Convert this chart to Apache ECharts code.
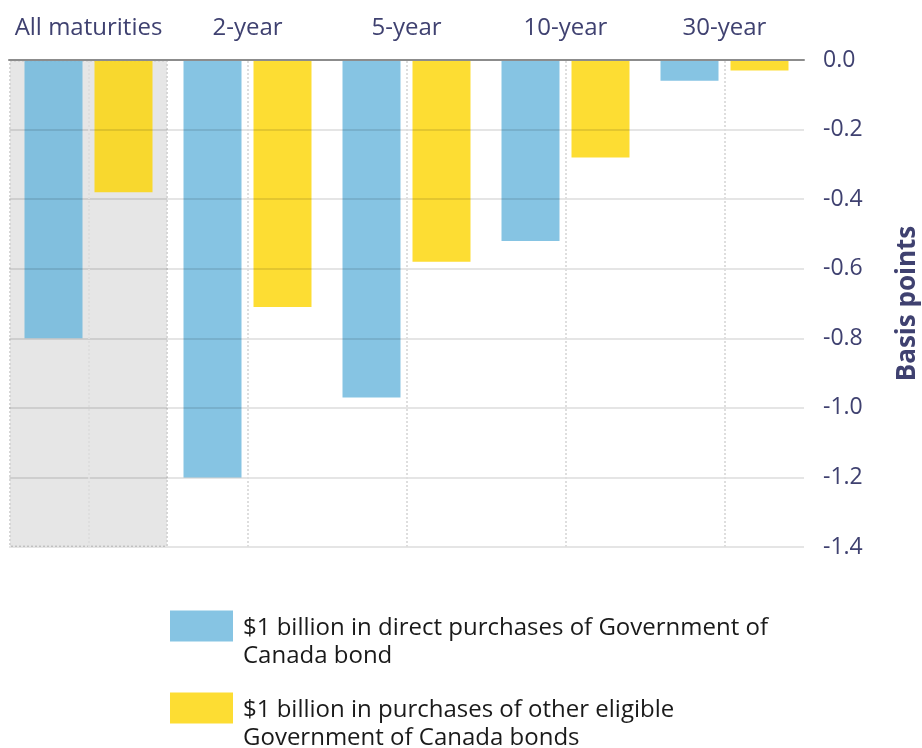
<!DOCTYPE html>
<html>
<head>
<meta charset="utf-8">
<script src="https://cdn.jsdelivr.net/npm/echarts@6/dist/echarts.min.js"></script>
<style>
  html, body { margin: 0; padding: 0; background: #fff; overflow: hidden; }
  #chart { width: 922px; height: 748px; }
</style>
</head>
<body>
<div id="chart"></div>
<script>
// data
const categories = ["All maturities", "2-year", "5-year", "10-year", "30-year"];
const directGoC = [-0.80, -1.20, -0.97, -0.52, -0.06];
const otherGoC = [-0.38, -0.71, -0.58, -0.28, -0.03];
const highlightBand = [-1.4, "-", "-", "-", "-"];
const seriesNames = [
  "$1 billion in direct purchases of Government of\nCanada bond",
  "$1 billion in purchases of other eligible\nGovernment of Canada bonds"
];

const labelColor = "#3f4170";
const font = "Open Sans";

var chart = echarts.init(document.getElementById("chart"));

var legendBase = {
  orient: "vertical",
  left: 170,
  padding: 0,
  itemWidth: 63,
  itemHeight: 31,
  icon: "rect",
  selectedMode: false,
  // leading spacer line so the first text line sits level with the swatch
  formatter: function (name) { return "{s| }\n" + name; },
  textStyle: {
    fontFamily: font,
    fontSize: 24,
    color: "#1a1a1a",
    lineHeight: 28,
    padding: [0, 0, 0, 5],
    rich: { s: { fontSize: 10, lineHeight: 32 } }
  }
};

var option = {
  animation: false,
  grid: { left: 9, right: 118, top: 60, bottom: 201, containLabel: false, outerBoundsMode: "none" },
  legend: [
    Object.assign({}, legendBase, { data: [seriesNames[0]], top: 582 }),
    Object.assign({}, legendBase, { data: [seriesNames[1]], top: 664 })
  ],
  xAxis: [
    {
      type: "category",
      data: categories,
      position: "top",
      axisLine: { lineStyle: { color: "#8c8c8c", width: 2 } },
      axisTick: { alignWithLabel: true, interval: 0, length: 6, lineStyle: { color: "#9a9a9a", width: 2 } },
      axisLabel: { interval: 0, fontFamily: font, fontSize: 24, color: labelColor, margin: 20 },
      splitLine: { show: false },
      z: 6
    },
    {
      type: "category",
      data: categories,
      position: "top",
      show: false
    }
  ],
  yAxis: {
    type: "value",
    position: "right",
    min: -1.4,
    max: 0,
    interval: 0.2,
    name: "Basis points",
    nameLocation: "middle",
    nameRotate: 90,
    nameGap: 91,
    nameTextStyle: { fontFamily: font, fontSize: 26, fontWeight: "bold", color: labelColor },
    axisLine: { show: false },
    axisTick: { show: false },
    axisLabel: {
      fontFamily: font, fontSize: 23, color: labelColor, margin: 19,
      formatter: function (v) { return v.toFixed(1); }
    },
    splitLine: { lineStyle: { color: "rgba(0,0,0,0.1)", width: 2 } },
    z: 5
  },
  series: [
    {
      name: "band",
      type: "bar",
      xAxisIndex: 1,
      barWidth: "100%",
      data: highlightBand,
      silent: true,
      z: 1,
      itemStyle: { color: "#e6e6e6", borderColor: "#d6d6d6", borderType: "dotted", borderWidth: 2 },
      markLine: {
        silent: true,
        symbol: "none",
        label: { show: false },
        lineStyle: { color: "#dedede", type: "dotted", width: 2 },
        data: categories.map(function (c) { return { xAxis: c }; })
      }
    },
    {
      name: seriesNames[0],
      type: "bar",
      barWidth: 58,
      barGap: "20.7%",
      data: directGoC,
      z: 2,
      itemStyle: { color: "#68b5dc", opacity: 0.8 }
    },
    {
      name: seriesNames[1],
      type: "bar",
      barWidth: 58,
      data: otherGoC,
      z: 2,
      itemStyle: { color: "#fcd500", opacity: 0.8 }
    }
  ]
};

chart.setOption(option);
</script>
</body>
</html>
